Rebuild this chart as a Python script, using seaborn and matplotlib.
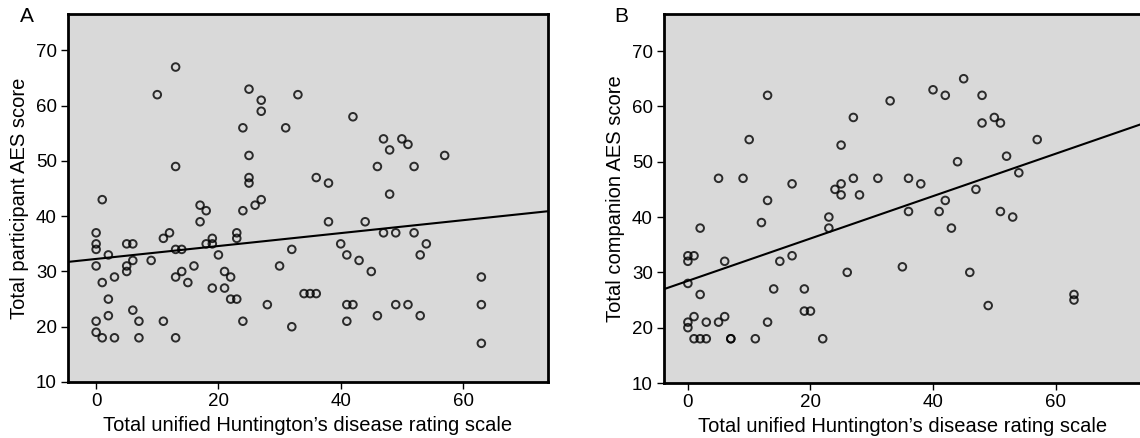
import numpy as np
import pandas as pd
import matplotlib
matplotlib.use("Agg")
import matplotlib.pyplot as plt
import seaborn as sns

# Panel A: participant AES vs UHDRS
a_x = [0, 0, 0, 0, 0, 0, 1, 1, 1, 2, 2, 2, 3, 3, 5, 5, 5, 6, 6, 6, 7, 7, 9, 10,
       11, 11, 12, 13, 13, 13, 13, 13, 14, 14, 15, 16, 17, 17, 18, 18, 19, 19, 19,
       20, 21, 21, 22, 22, 23, 23, 23, 24, 24, 24, 25, 25, 25, 25, 26, 27, 27, 27,
       28, 30, 31, 32, 32, 33, 34, 35, 36, 36,
       42, 47, 50, 51, 48, 57, 46, 52, 38, 48, 38, 44, 47, 49, 52, 40, 54, 41, 53,
       43, 45, 63, 41, 42, 49, 51, 63, 41, 46, 53, 63]
a_y = [37, 35, 34, 31, 21, 19, 43, 28, 18, 33, 25, 22, 29, 18, 35, 31, 30, 35, 32, 23,
       21, 18, 32, 62, 36, 21, 37, 67, 49, 34, 29, 18, 34, 30, 28, 31, 42, 39, 41, 35,
       36, 35, 27, 33, 30, 27, 29, 25, 37, 36, 25, 56, 41, 21, 63, 51, 47, 46, 42, 61,
       59, 43, 24, 31, 56, 34, 20, 62, 26, 26, 26, 47,
       58, 54, 54, 53, 52, 51, 49, 49, 46, 44, 39, 39, 37, 37, 37, 35, 35, 33, 33,
       32, 30, 29, 24, 24, 24, 24, 24, 21, 22, 22, 17]

# Panel B: companion AES vs UHDRS
b_x = [0, 0, 0, 0, 0, 1, 1, 1, 2, 2, 2, 3, 3, 5, 5, 6, 6, 7, 7, 9, 10, 11, 12, 13,
       13, 13, 14, 15, 17, 17, 19, 19, 20, 22, 23, 23, 24, 25, 25, 25, 26, 27, 27,
       28, 31, 33, 40, 42, 45, 48, 48, 50, 51, 57, 52, 44, 54, 36, 38, 47, 42, 36,
       41, 51, 53, 43, 35, 46, 49, 63, 63]
b_y = [33, 32, 28, 21, 20, 33, 22, 18, 38, 26, 18, 21, 18, 47, 21, 32, 22, 18, 18,
       47, 54, 18, 39, 62, 43, 21, 27, 32, 46, 33, 27, 23, 23, 18, 40, 38, 45, 53, 46,
       44, 30, 58, 47, 44, 47, 61, 63, 62, 65, 62, 57, 58, 57, 54, 51, 50, 48, 47, 46,
       45, 43, 41, 41, 41, 40, 38, 31, 30, 24, 26, 25]

x_ticks = [0, 20, 40, 60]
y_ticks = [10, 20, 30, 40, 50, 60, 70]
x_label = "Total unified Huntington\u2019s disease rating scale"
ylabel_a = "Total participant AES score"
ylabel_b = "Total companion AES score"

sns.set_theme(style="white")
plt.rcParams['font.family'] = ['Liberation Sans', 'DejaVu Sans']
plt.rcParams['text.color'] = 'black'
plt.rcParams['axes.labelcolor'] = 'black'
plt.rcParams['xtick.color'] = 'black'
plt.rcParams['ytick.color'] = 'black'

fig = plt.figure(figsize=(11.4, 4.38), dpi=100)
ax_a = fig.add_axes([68/1140, 1-382/438, 480/1140, 368/438])
ax_b = fig.add_axes([664/1140, 1-383/438, 478/1140, 369/438])

panels = [
    (ax_a, a_x, a_y, ylabel_a, (-4.6, 73.9), (10, 76.6), "A", 20/1140),
    (ax_b, b_x, b_y, ylabel_b, (-3.9, 74.1), (10, 76.7), "B", 614/1140),
]
for ax, xs, ys, ylab, xlim, ylim, letter, lx in panels:
    df = pd.DataFrame({"x": xs, "y": ys})
    ax.set_facecolor("#d9d9d9")
    ax.set_xlim(*xlim)
    ax.set_ylim(*ylim)
    sns.regplot(data=df, x="x", y="y", ax=ax, ci=None, truncate=False,
                scatter_kws=dict(marker="o", s=30, facecolors="none",
                                 edgecolors="black", linewidths=1.4, zorder=3),
                line_kws=dict(color="black", lw=1.5, zorder=2))
    ax.set_xlim(*xlim)
    ax.set_ylim(*ylim)
    ax.set_xticks(x_ticks)
    ax.set_yticks(y_ticks)
    ax.set_xlabel(x_label, fontsize=14.5, labelpad=4, color="black")
    ax.set_ylabel(ylab, fontsize=14.5, labelpad=5, color="black")
    ax.tick_params(axis="both", which="both", direction="out", length=5,
                   width=1, color="black", labelcolor="black", labelsize=13.5,
                   bottom=True, left=True, top=False, right=False, pad=3)
    for sp in ax.spines.values():
        sp.set_visible(True)
        sp.set_color("black")
        sp.set_linewidth(2)
    fig.text(lx, 1-16/438, letter, fontsize=15, ha="left", va="center",
             color="black")

fig.savefig("out.png", dpi=100)
